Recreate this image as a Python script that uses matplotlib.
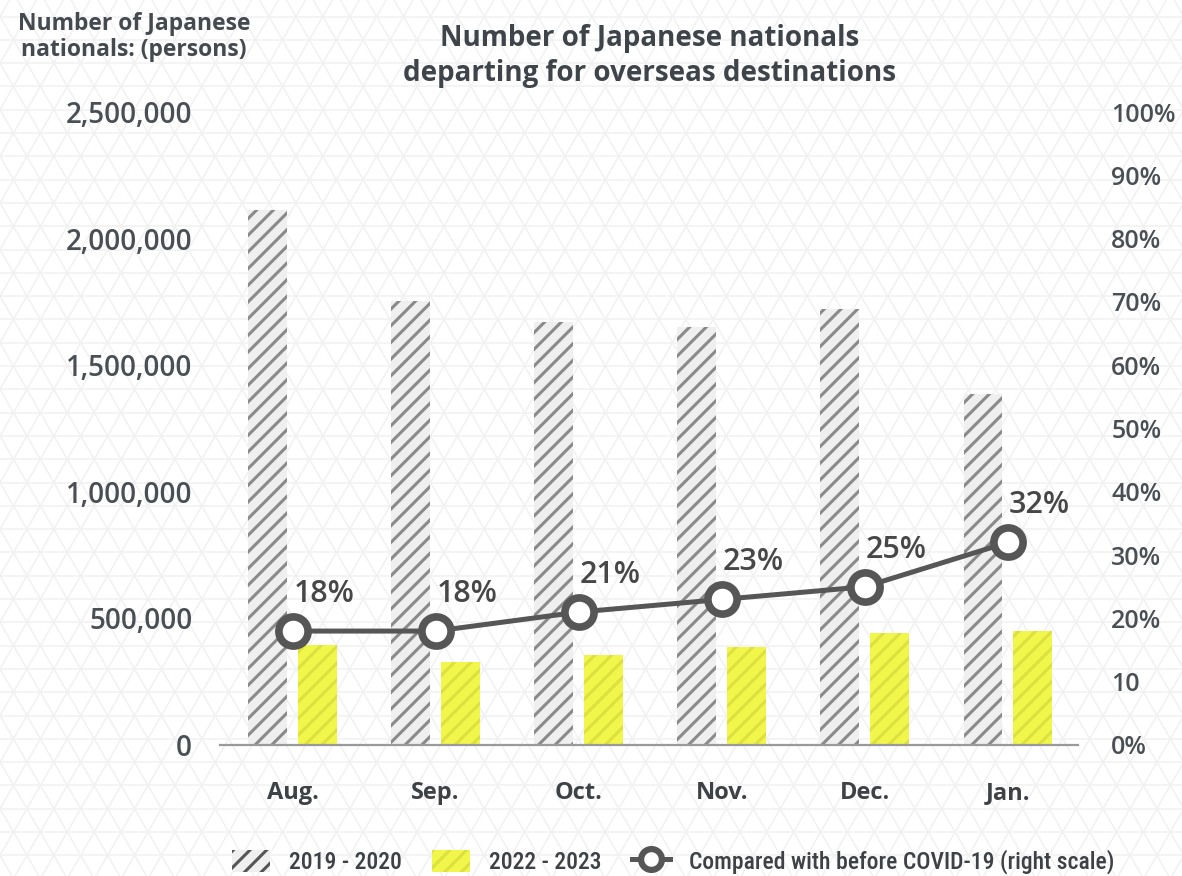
import numpy as np
import matplotlib
matplotlib.use("Agg")
import matplotlib.pyplot as plt
from matplotlib import font_manager
from matplotlib.collections import LineCollection
from matplotlib.patches import Patch
from matplotlib.lines import Line2D

# ---- data ----
months = ["Aug.", "Sep.", "Oct.", "Nov.", "Dec.", "Jan."]
departures_2019_2020 = [2113000, 1753000, 1671000, 1651000, 1722000, 1386000]
departures_2022_2023 = [395000, 328000, 355000, 387000, 442000, 450000]
ratio_vs_precovid = [18, 18, 21, 23, 25, 32]  # percent

left_ticks = [0, 500000, 1000000, 1500000, 2000000, 2500000]
left_ticklabels = ["0", "500,000", "1,000,000", "1,500,000", "2,000,000", "2,500,000"]
right_ticks = [0, 10, 20, 30, 40, 50, 60, 70, 80, 90, 100]
right_ticklabels = ["0%", "10", "20%", "30%", "40%", "50%", "60%", "70%", "80%", "90%", "100%"]

legend_labels = ["2019 - 2020", "2022 - 2023", "Compared with before COVID-19 (right scale)"]

# ---- fonts / style ----
available = {f.name for f in font_manager.fontManager.ttflist}


def pick(*names):
    for n in names:
        if n in available:
            return n
    return "DejaVu Sans"


main_font = pick("Open Sans", "Lato")
legend_font = pick("Roboto Condensed", "Liberation Sans Narrow", "Roboto")
plt.rcParams["font.family"] = [main_font, "DejaVu Sans"]
plt.rcParams["hatch.linewidth"] = 2.2

TXT = "#4a4f55"
LINE = "#565656"
GRAY_FILL = "#efefef"
GRAY_HATCH = "#8a8a8a"
YELLOW_FILL = "#f1f64b"
YELLOW_HATCH = "#dde03e"

W, H = 1182, 876
fig = plt.figure(figsize=(W / 100, H / 100), dpi=100)

# ---- faint triangular lattice background ----
bg = fig.add_axes([0, 0, 1, 1], zorder=-10)
bg.set_xlim(0, W)
bg.set_ylim(H, 0)
bg.axis("off")
h = 23.3
s = 2 * h / np.sqrt(3)
y0 = 389.3 % h
segs = []
for k in range(-2, int(H / h) + 3):
    y = y0 + k * h
    segs.append([(0, y), (W, y)])
t = np.tan(np.radians(60))
for k in range(-60, int(W / s) + 60):
    x = k * s
    segs.append([(x, y0), (x + (H - y0 + 200) / t, H + 200)])
    segs.append([(x, y0), (x - (H - y0 + 200) / t, H + 200)])
    segs.append([(x, y0), (x - (y0 + 200) / t, -200)])
    segs.append([(x, y0), (x + (y0 + 200) / t, -200)])
bg.add_collection(LineCollection(segs, colors="#f1f1f1", linewidths=1.1))

# ---- main axes ----
ax_left, ax_right, ax_bottom, ax_top = 220, 1078, 745, 112
ax = fig.add_axes([ax_left / W, (H - ax_bottom) / H,
                   (ax_right - ax_left) / W, (ax_bottom - ax_top) / H])
ax.set_facecolor("none")

x = np.arange(len(months))
bw = 0.272
off = 0.174
ax.bar(x - off, departures_2019_2020, width=bw, color=GRAY_FILL,
       edgecolor=GRAY_HATCH, hatch="//", linewidth=0, zorder=2)
ax.bar(x + off, departures_2022_2023, width=bw, color=YELLOW_FILL,
       edgecolor=YELLOW_HATCH, hatch="//", linewidth=0, zorder=2)

ax.set_xlim(-0.507, 5.49)
ax.set_ylim(0, 2500000)
ax.set_yticks(left_ticks)
ax.set_yticklabels(left_ticklabels)
ax.set_xticks(x)
ax.set_xticklabels(months)
ax.tick_params(axis="y", length=0, pad=20, labelsize=20, labelcolor=TXT)
ax.tick_params(axis="x", length=0, pad=26, labelsize=17, labelcolor="#3e4247")
for lab in ax.get_xticklabels():
    lab.set_fontweight("bold")
for lab in ax.get_yticklabels():
    lab.set_fontweight("semibold")
for sp in ["left", "right", "top"]:
    ax.spines[sp].set_visible(False)
ax.spines["bottom"].set_color("#9a9a9a")
ax.spines["bottom"].set_linewidth(1.6)
ax.spines["bottom"].set_zorder(3)

ax2 = ax.twinx()
ax2.set_ylim(0, 99.5)
ax2.set_yticks(right_ticks)
ax2.set_yticklabels(right_ticklabels)
ax2.tick_params(axis="y", length=0, pad=24, labelsize=18, labelcolor=TXT)
for lab in ax2.get_yticklabels():
    lab.set_fontweight("semibold")
for sp in ["left", "right", "top", "bottom"]:
    ax2.spines[sp].set_visible(False)

ax2.plot(x, ratio_vs_precovid, color=LINE, lw=3.6, marker="o", ms=21,
         mew=5.5, mfc="white", mec=LINE, zorder=5)
for xi, v in zip(x, ratio_vs_precovid):
    ax2.annotate(f"{v}%", (xi, v), xytext=(0.5, 21), textcoords="offset points",
                 ha="left", va="baseline", fontsize=22, color="#474747",
                 fontweight="semibold")

# ---- titles ----
fig.text(134 / W, 1 - 37 / H, "Number of Japanese\nnationals: (persons)",
         ha="center", va="center", fontsize=16.5, fontweight="bold",
         color="#454a50", linespacing=1.1)
fig.text(650 / W, 1 - 56 / H, "Number of Japanese nationals\ndeparting for overseas destinations",
         ha="center", va="center", fontsize=20, fontweight="bold",
         color="#3f444a", linespacing=1.25)

# ---- legend ----
handles = [
    Patch(facecolor=GRAY_FILL, edgecolor="#555555", hatch="//", linewidth=0),
    Patch(facecolor=YELLOW_FILL, edgecolor=YELLOW_HATCH, hatch="//", linewidth=0),
    Line2D([0], [0], color=LINE, lw=3.6, marker="o", ms=15, mew=4.5,
           mfc="white", mec=LINE),
]
leg = fig.legend(handles, legend_labels, loc="center", ncol=3,
                 bbox_to_anchor=(673 / W, 1 - 862 / H), frameon=False,
                 prop={"family": [legend_font, "DejaVu Sans"], "size": 17,
                       "weight": "medium"},
                 handlelength=1.6, handleheight=1.1, columnspacing=1.3,
                 handletextpad=0.8, labelcolor="#3e4247")

fig.savefig("out.png", dpi=100)
